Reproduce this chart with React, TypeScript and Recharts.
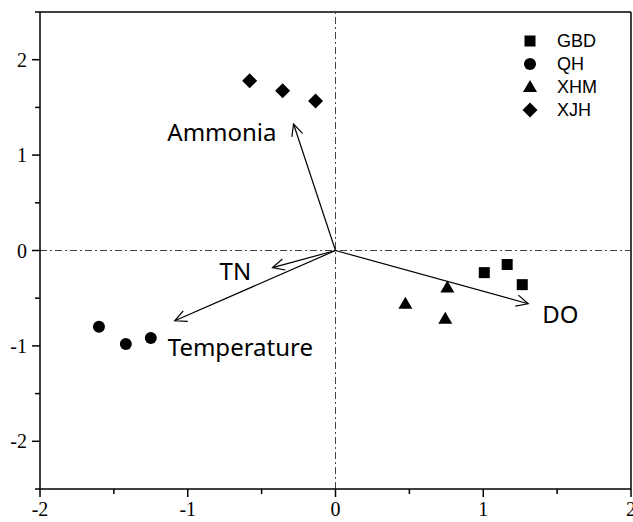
import React from 'react';
import { ScatterChart, Scatter, XAxis, YAxis, ReferenceLine } from 'recharts';

// site scores
const gbd = [
  { x: 1.007, y: -0.232 },
  { x: 1.162, y: -0.147 },
  { x: 1.264, y: -0.358 },
];
const qh = [
  { x: -1.601, y: -0.8 },
  { x: -1.419, y: -0.979 },
  { x: -1.25, y: -0.916 },
];
const xhm = [
  { x: 0.473, y: -0.558 },
  { x: 0.757, y: -0.389 },
  { x: 0.743, y: -0.716 },
];
const xjh = [
  { x: -0.581, y: 1.779 },
  { x: -0.358, y: 1.674 },
  { x: -0.135, y: 1.568 },
];

// environmental vectors (arrow tips)
const vectorNames = ['Ammonia', 'TN', 'Temperature', 'DO'];
const vectorX = [-0.284, -0.426, -1.088, 1.304];
const vectorY = [1.326, -0.179, -0.737, -0.558];

const xTicks = [-2, -1.5, -1, -0.5, 0, 0.5, 1, 1.5, 2];
const yTicks = [-2.5, -2, -1.5, -1, -0.5, 0, 0.5, 1, 1.5, 2, 2.5];

// label placement relative to arrow tip, in px
const labelOffsets = [
  { dx: -17, dy: 17, anchor: 'end' },
  { dx: -53, dy: 12, anchor: 'start' },
  { dx: -7, dy: 35, anchor: 'start' },
  { dx: 14, dy: 19, anchor: 'start' },
];

const seriesList = [
  { name: 'GBD', data: gbd, shape: 'square' },
  { name: 'QH', data: qh, shape: 'circle' },
  { name: 'XHM', data: xhm, shape: 'triangle' },
  { name: 'XJH', data: xjh, shape: 'diamond' },
];

const axisFont = '"Liberation Serif", "Times New Roman", serif';
const labelFont = '"Noto Sans", "Open Sans", sans-serif';

const Marker = ({ kind, cx, cy }: { kind: string; cx: number; cy: number }) => {
  if (kind === 'square') return <rect x={cx - 5.5} y={cy - 5.5} width={11} height={11} fill="#000" />;
  if (kind === 'circle') return <circle cx={cx} cy={cy} r={6} fill="#000" />;
  if (kind === 'triangle')
    return <polygon points={`${cx},${cy - 7} ${cx + 7},${cy + 5} ${cx - 7},${cy + 5}`} fill="#000" />;
  return <polygon points={`${cx},${cy - 7.5} ${cx + 7.5},${cy} ${cx},${cy + 7.5} ${cx - 7.5},${cy}`} fill="#000" />;
};

const XTick = (props: any) => {
  const { x, y, payload } = props;
  const major = Number.isInteger(payload.value);
  return (
    <g>
      <line x1={x} y1={y} x2={x} y2={y + (major ? 8 : 5)} stroke="#000" strokeWidth={1.5} />
      {major && (
        <text x={x} y={y + 27} textAnchor="middle" fontFamily={axisFont} fontSize={20} fill="#000">
          {String(payload.value)}
        </text>
      )}
    </g>
  );
};

const YTick = (props: any) => {
  const { x, y, payload } = props;
  const major = Number.isInteger(payload.value);
  return (
    <g>
      <line x1={x} y1={y} x2={x - (major ? 8 : 5)} y2={y} stroke="#000" strokeWidth={1.5} />
      {major && (
        <text x={x - 13} y={y + 7} textAnchor="end" fontFamily={axisFont} fontSize={20} fill="#000">
          {String(payload.value)}
        </text>
      )}
    </g>
  );
};

const arrowShape = (i: number) => (props: any) => {
  const { x1, y1, x2, y2 } = props;
  const ang = Math.atan2(y2 - y1, x2 - x1);
  const len = 13;
  const spread = 0.45;
  const ax = x2 - len * Math.cos(ang - spread);
  const ay = y2 - len * Math.sin(ang - spread);
  const bx = x2 - len * Math.cos(ang + spread);
  const by = y2 - len * Math.sin(ang + spread);
  const off = labelOffsets[i];
  return (
    <g>
      <line x1={x1} y1={y1} x2={x2} y2={y2} stroke="#000" strokeWidth={1.2} />
      <polyline points={`${ax},${ay} ${x2},${y2} ${bx},${by}`} fill="none" stroke="#000" strokeWidth={1.2} />
      <text x={x2 + off.dx} y={y2 + off.dy} textAnchor={off.anchor as any} fontFamily={labelFont} fontSize={24} fill="#000">
        {vectorNames[i]}
      </text>
    </g>
  );
};

const LegendBox = () => (
  <div
    style={{
      position: 'absolute',
      left: 517,
      top: 29,
      fontFamily: '"Liberation Sans", Arial, sans-serif',
      fontSize: 18,
      lineHeight: '20px',
      color: '#000',
    }}
  >
    {seriesList.map((s) => (
      <div key={s.name} style={{ display: 'flex', alignItems: 'center', height: 23 }}>
        <svg width={26} height={20}>
          <Marker kind={s.shape} cx={13} cy={10} />
        </svg>
        <span style={{ marginLeft: 14 }}>{s.name}</span>
      </div>
    ))}
  </div>
);

export default function App() {
  return (
    <div style={{ position: 'absolute', left: 0, top: 0, width: 633, height: 522, background: '#fff' }}>
      <ScatterChart width={633} height={522} margin={{ top: 12, right: 2, bottom: 0, left: 0 }}>
        <XAxis
          type="number"
          dataKey="x"
          domain={[-2, 2]}
          ticks={xTicks}
          interval={0}
          height={33}
          tickSize={0}
          tickMargin={0}
          tickLine={false}
          tick={<XTick />}
          axisLine={{ stroke: '#000', strokeWidth: 1.5 }}
          allowDataOverflow
        />
        <YAxis
          type="number"
          dataKey="y"
          domain={[-2.5, 2.5]}
          ticks={yTicks}
          interval={0}
          width={40}
          tickSize={0}
          tickMargin={0}
          tickLine={false}
          tick={<YTick />}
          axisLine={{ stroke: '#000', strokeWidth: 1.5 }}
          allowDataOverflow
        />
        <ReferenceLine y={2.5} stroke="#000" strokeWidth={1.5} ifOverflow="extendDomain" />
        <ReferenceLine x={2} stroke="#000" strokeWidth={1.5} ifOverflow="extendDomain" />
        <ReferenceLine y={0} stroke="#444" strokeWidth={1} strokeDasharray="7 3 2 3" />
        <ReferenceLine x={0} stroke="#444" strokeWidth={1} strokeDasharray="7 3 2 3" />
        {vectorNames.map((n, i) => (
          <ReferenceLine
            key={n}
            segment={[{ x: 0, y: 0 }, { x: vectorX[i], y: vectorY[i] }]}
            shape={arrowShape(i)}
          />
        ))}
        {seriesList.map((s) => (
          <Scatter
            key={s.name}
            name={s.name}
            data={s.data}
            isAnimationActive={false}
            shape={(p: any) => <Marker kind={s.shape} cx={p.cx} cy={p.cy} />}
          />
        ))}
      </ScatterChart>
      <LegendBox />
    </div>
  );
}
